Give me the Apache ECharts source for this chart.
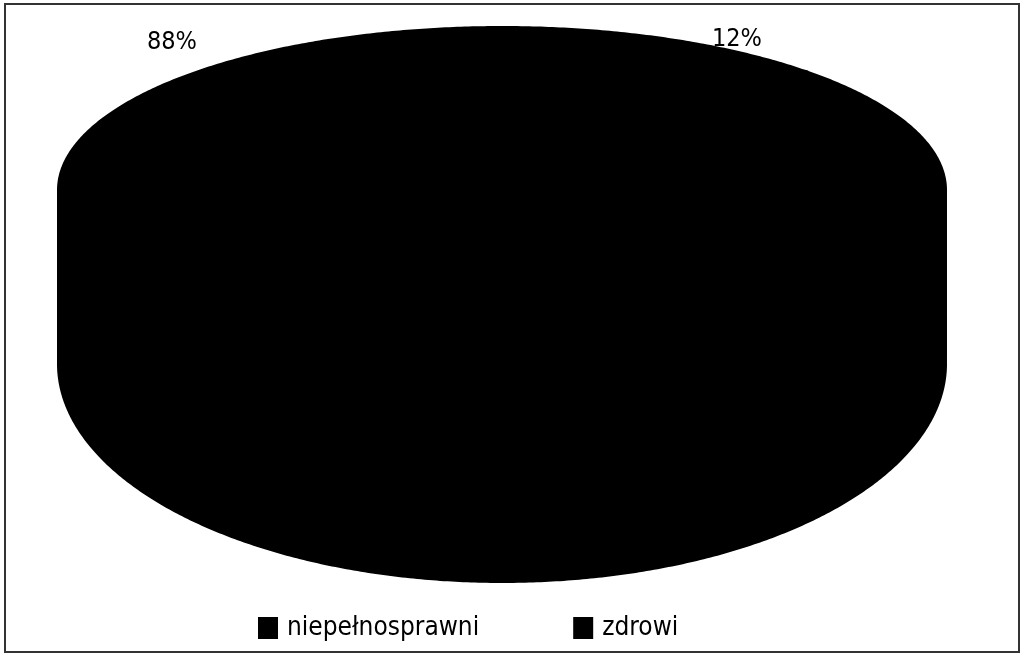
<!DOCTYPE html>
<html><head><meta charset="utf-8">
<script src="https://cdn.jsdelivr.net/npm/echarts@6/dist/echarts.min.js"></script>
<style>html,body{margin:0;padding:0;background:#fff}#c{width:1024px;height:659px}</style>
</head><body><div id="c"></div>
<script>
const categories = ['niepełnosprawni', 'zdrowi'];
const values = [88, 12];
const sliceColors = ['#000000', '#000000'];

const FONT = '"DejaVu Sans Condensed","Liberation Sans",sans-serif';
const geo = {cx: 502, rx: 444, cyT: 190, ryT: 163, cyB: 364, ryB: 218};
const total = values.reduce((a, b) => a + b, 0);

function pt(theta, cy, ry) {
  const r = theta * Math.PI / 180;
  return [geo.cx + geo.rx * Math.cos(r), cy + ry * Math.sin(r)];
}

function renderSlice(params, api) {
  const idx = params.seriesIndex;
  const v = api.value(0);
  let cum = 0;
  for (let i = 0; i < idx; i++) cum += values[i];
  const hi = 270 - cum / total * 360;
  const lo = 270 - (cum + v) / total * 360;
  const color = api.visual('color');
  const children = [];
  // side wall (front half)
  for (let k = -2; k <= 2; k++) {
    const s = Math.max(lo, k * 360), e = Math.min(hi, k * 360 + 180);
    if (e > s) {
      const pts = [];
      for (let t = s; t <= e; t += 0.5) pts.push(pt(t, geo.cyT, geo.ryT));
      pts.push(pt(e, geo.cyT, geo.ryT));
      for (let t = e; t >= s; t -= 0.5) pts.push(pt(t, geo.cyB, geo.ryB));
      pts.push(pt(s, geo.cyB, geo.ryB));
      children.push({type: 'polygon', shape: {points: pts}, style: {fill: color, stroke: color, lineWidth: 2}});
    }
  }
  // top face
  const top = [[geo.cx, geo.cyT]];
  for (let t = lo; t <= hi; t += 0.5) top.push(pt(t, geo.cyT, geo.ryT));
  top.push(pt(hi, geo.cyT, geo.ryT));
  children.push({type: 'polygon', shape: {points: top}, style: {fill: color, stroke: color, lineWidth: 2}});
  return {type: 'group', children: children};
}

const chart = echarts.init(document.getElementById('c'), null, {renderer: 'canvas'});
chart.setOption({
  backgroundColor: '#ffffff',
  animation: false,
  legend: {
    data: categories,
    left: 253, top: 610,
    icon: 'rect',
    itemWidth: 20, itemHeight: 22,
    itemGap: 94,
    textStyle: {fontFamily: FONT, fontSize: 26, color: '#000', padding: [0, 0, 0, 4]}
  },
  graphic: [
    {type: 'rect', shape: {x: 5, y: 4, width: 1014, height: 648}, style: {fill: 'none', stroke: '#333', lineWidth: 2}, z: 100},
    {type: 'text', x: 172, y: 42, style: {text: values[0] + '%', font: '25px ' + FONT, fill: '#000', align: 'center', verticalAlign: 'middle'}, z: 100},
    {type: 'text', x: 737, y: 39, style: {text: values[1] + '%', font: '25px ' + FONT, fill: '#000', align: 'center', verticalAlign: 'middle'}, z: 100}
  ],
  series: categories.map((name, i) => ({
    type: 'custom',
    name: name,
    coordinateSystem: 'none',
    itemStyle: {color: sliceColors[i]},
    renderItem: renderSlice,
    data: [[values[i]]]
  }))
});
</script></body></html>
